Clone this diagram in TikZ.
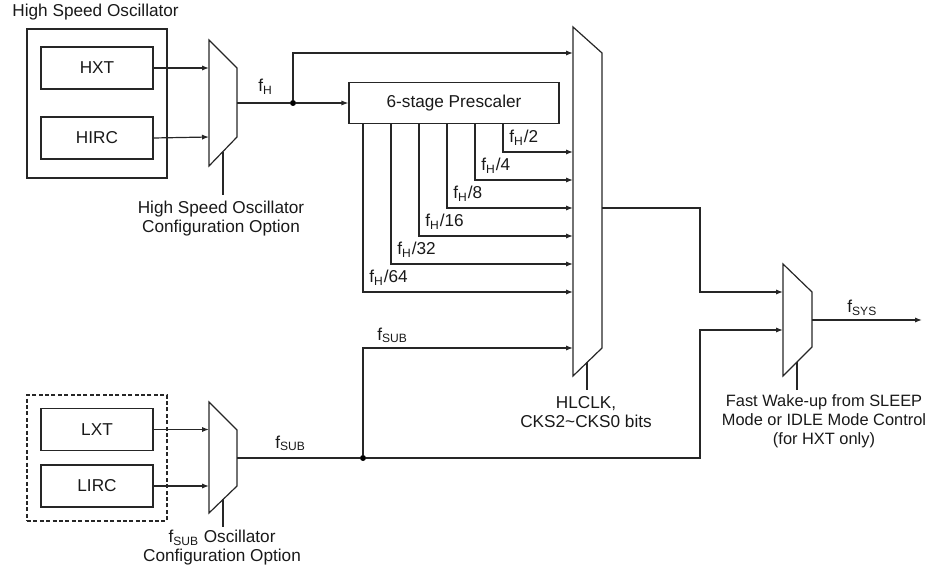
\documentclass[tikz,border=0pt]{standalone}
\usepackage{fontspec}
\setmainfont{Liberation Sans}
\usetikzlibrary{arrows.meta}
\newcommand{\lsub}[1]{\textsubscript{#1}}
\begin{document}
\begin{tikzpicture}[x=0.5pt,y=-0.5pt,
  every node/.style={font=\fontsize{8.6}{9.5}\selectfont, text=black!90, inner sep=0pt},
  line/.style={draw=black!85, line width=0.6pt},
  arr/.style={line, -{Latex[length=3.5pt,width=2.6pt]}},
  oscbox/.style={line, minimum width=56pt, minimum height=21pt},
  dot/.style={circle, fill=black, minimum size=3pt, inner sep=0pt},
  lbl/.style={anchor=base west},
  note/.style={align=center}]
\useasboundingbox (0,0) rectangle (930,571);

% ---------- high speed oscillator ----------
\node[lbl] (hsolbl) at (12,17) {High Speed Oscillator};
\node[line, minimum width=70pt, minimum height=74.5pt] (hso) at (97,103.5) {};
\node[oscbox] (hxt) at (97,68) {HXT};
\node[oscbox] (hirc) at (97,138) {HIRC};

% mux 1
\draw[line] (209,40) -- (237,68) -- (237,137) -- (209,166) -- cycle;
\coordinate (m1a) at (209,68);
\coordinate (m1b) at (209,137);
\coordinate (m1out) at (237,103);
\coordinate (m1ctl) at (223,152);
\coordinate (c1) at (223,195);
\draw[arr] (hxt.east) -- (m1a);
\draw[arr] (hirc.east) -- (m1b);
\draw[line] (m1ctl) -- (c1);
\node[note] (cfg1) at (221,219) {High Speed Oscillator\\Configuration Option};
\node[lbl] (fhlbl) at (258,92) {f\lsub{H}};
\node[dot] (jH) at (293,103) {};
\draw[line] (m1out) -- (jH);

% ---------- prescaler ----------
\node[line, minimum width=105pt, minimum height=20.5pt] (pre) at (454,103) {6-stage Prescaler};
\draw[arr] (jH) -- (pre.west);

% ---------- big mux ----------
\draw[line] (573,27) -- (602,53) -- (602,348) -- (573,376) -- cycle;
\coordinate (b1) at (573,53);
\coordinate (b2) at (573,152);
\coordinate (b4) at (573,180);
\coordinate (b8) at (573,208);
\coordinate (b16) at (573,236);
\coordinate (b32) at (573,264);
\coordinate (b64) at (573,292);
\coordinate (bsub) at (573,348);
\coordinate (bout) at (602,208);
\coordinate (bctl) at (587,362);
\coordinate (c3) at (587,390);
\draw[arr] (jH) |- (b1);

\coordinate (t2) at (503,0);
\coordinate (t4) at (475,0);
\coordinate (t8) at (447,0);
\coordinate (t16) at (419,0);
\coordinate (t32) at (391,0);
\coordinate (t64) at (363,0);
\draw[arr] (pre.south -| t2) |- (b2);
\draw[arr] (pre.south -| t4) |- (b4);
\draw[arr] (pre.south -| t8) |- (b8);
\draw[arr] (pre.south -| t16) |- (b16);
\draw[arr] (pre.south -| t32) |- (b32);
\draw[arr] (pre.south -| t64) |- (b64);
\node[lbl] (l2) at (509,143) {f\lsub{H}/2};
\node[lbl] (l4) at (481,171) {f\lsub{H}/4};
\node[lbl] (l8) at (453,199) {f\lsub{H}/8};
\node[lbl] (l16) at (425,227) {f\lsub{H}/16};
\node[lbl] (l32) at (397,255) {f\lsub{H}/32};
\node[lbl] (l64) at (369,283) {f\lsub{H}/64};

\draw[line] (bctl) -- (c3);
\node[note] (cfg3) at (586,412) {HLCLK,\\CKS2\textasciitilde CKS0 bits};

% ---------- low speed oscillator ----------
\node[draw=black!85, line width=0.8pt, dash pattern=on 2pt off 1.2pt, minimum width=70pt, minimum height=63pt] (lso) at (97,458) {};
\node[oscbox] (lxt) at (97,429.5) {LXT};
\node[oscbox] (lirc) at (97,486) {LIRC};

% mux 2
\draw[line] (209,402) -- (237,430) -- (237,486) -- (209,513) -- cycle;
\coordinate (m2a) at (209,429.5);
\coordinate (m2b) at (209,486);
\coordinate (m2out) at (237,458);
\coordinate (m2ctl) at (223,499);
\coordinate (c2) at (223,527);
\draw[arr] (lxt.east) -- (m2a);
\draw[arr] (lirc.east) -- (m2b);
\draw[line] (m2ctl) -- (c2);
\node[note] (cfg2) at (222,548) {f\lsub{SUB} Oscillator\\Configuration Option};
\node[lbl] (fsublbl) at (275,448) {f\lsub{SUB}};
\node[dot] (jS) at (363,458) {};
\draw[line] (m2out) -- (jS);
\draw[arr] (jS) |- (bsub);
\node[lbl] (fsublbl2) at (377,340) {f\lsub{SUB}};

% ---------- mux 3 ----------
\draw[line] (783,264) -- (812,292) -- (812,347) -- (783,376) -- cycle;
\coordinate (m3a) at (783,292);
\coordinate (m3b) at (783,330);
\coordinate (m3out) at (812,320);
\coordinate (m3ctl) at (797,362);
\coordinate (c4) at (797,390);
\coordinate (fsys) at (922,320);
\coordinate (k1) at (700,208);
\coordinate (k2) at (700,458);
\draw[arr] (bout) -- (k1) |- (m3a);
\draw[arr] (jS) -- (k2) |- (m3b);
\draw[arr] (m3out) -- (fsys);
\node[lbl] (fsyslbl) at (847,313) {f\lsub{SYS}};
\draw[line] (m3ctl) -- (c4);
\node[note, font=\fontsize{8.2}{9.5}\selectfont] (cfg4) at (824,421) {Fast Wake-up from SLEEP\\Mode or IDLE Mode Control\\(for HXT only)};
\end{tikzpicture}
\end{document}
